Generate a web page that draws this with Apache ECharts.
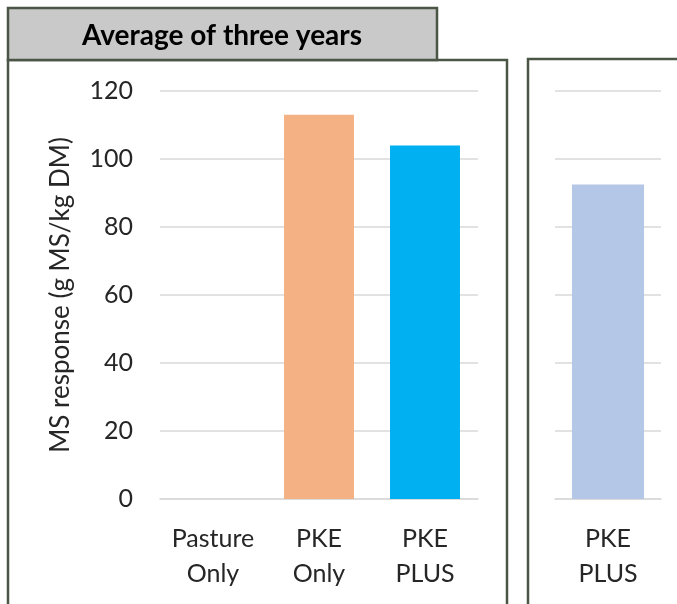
<!DOCTYPE html>
<html><head><meta charset="utf-8">
<script src="https://cdn.jsdelivr.net/npm/echarts@6/dist/echarts.min.js"></script>
<style>html,body{margin:0;padding:0;background:#fff}#c{width:677px;height:604px}</style>
</head><body><div id="c"></div>
<script>
const titleText = "Average of three years";
const yAxisName = "MS response (g MS/kg DM)";
const leftCategories = ["Pasture\nOnly", "PKE\nOnly", "PKE\nPLUS"];
const leftValues = [0, 113, 104];
const leftColors = ["#f4b183", "#f4b183", "#00b0f0"];
const rightCategories = ["PKE\nPLUS"];
const rightValues = [92.5];
const rightColors = ["#b4c7e7"];
const yMin = 0, yMax = 120, yStep = 20;

const FONT = "Lato";
const chart = echarts.init(document.getElementById('c'), null, {renderer:'canvas'});
const border = "#4b5546";
const yAxisCommon = {
  type:'value', min:yMin, max:yMax, interval:yStep,
  axisLine:{show:false}, axisTick:{show:false},
  splitLine:{lineStyle:{color:'#d9d9d9', width:1.5}}
};
const xAxisCommon = {
  type:'category',
  axisLine:{lineStyle:{color:'#d9d9d9', width:1.5}},
  axisTick:{show:false},
  axisLabel:{color:'#262626', fontFamily:FONT, fontSize:25, lineHeight:35, margin:22, interval:0}
};
chart.setOption({
  animation:false,
  graphic:[
    {type:'rect', shape:{x:8, y:60, width:499, height:600}, style:{fill:'none', stroke:border, lineWidth:2.5}, z:-1},
    {type:'rect', shape:{x:528, y:59, width:200, height:600}, style:{fill:'none', stroke:border, lineWidth:2.5}, z:-1},
    {type:'rect', shape:{x:8, y:8, width:429, height:52}, style:{fill:'#c9c9c9', stroke:border, lineWidth:2.5}, z:1},
    {type:'text', x:222, y:36, style:{text:titleText, fill:'#000', font:'bold 28px '+FONT, textAlign:'center', textVerticalAlign:'middle'}, z:2}
  ],
  grid:[
    {left:160, right:199, top:91, bottom:105},
    {left:555, right:16, top:91, bottom:105}
  ],
  xAxis:[
    Object.assign({gridIndex:0, data:leftCategories}, xAxisCommon),
    Object.assign({gridIndex:1, data:rightCategories}, xAxisCommon)
  ],
  yAxis:[
    Object.assign({gridIndex:0, name:yAxisName, nameLocation:'middle', nameGap:86, nameRotate:90,
      nameTextStyle:{color:'#262626', fontFamily:FONT, fontSize:26},
      axisLabel:{color:'#262626', fontFamily:FONT, fontSize:25, margin:27}}, yAxisCommon),
    Object.assign({gridIndex:1, axisLabel:{show:false}}, yAxisCommon)
  ],
  series:[
    {type:'bar', xAxisIndex:0, yAxisIndex:0, barWidth:'66%',
     data:leftValues.map((v,i)=>({value:v, itemStyle:{color:leftColors[i]}}))},
    {type:'bar', xAxisIndex:1, yAxisIndex:1, barWidth:'68%',
     data:rightValues.map((v,i)=>({value:v, itemStyle:{color:rightColors[i]}}))}
  ]
});
</script></body></html>
